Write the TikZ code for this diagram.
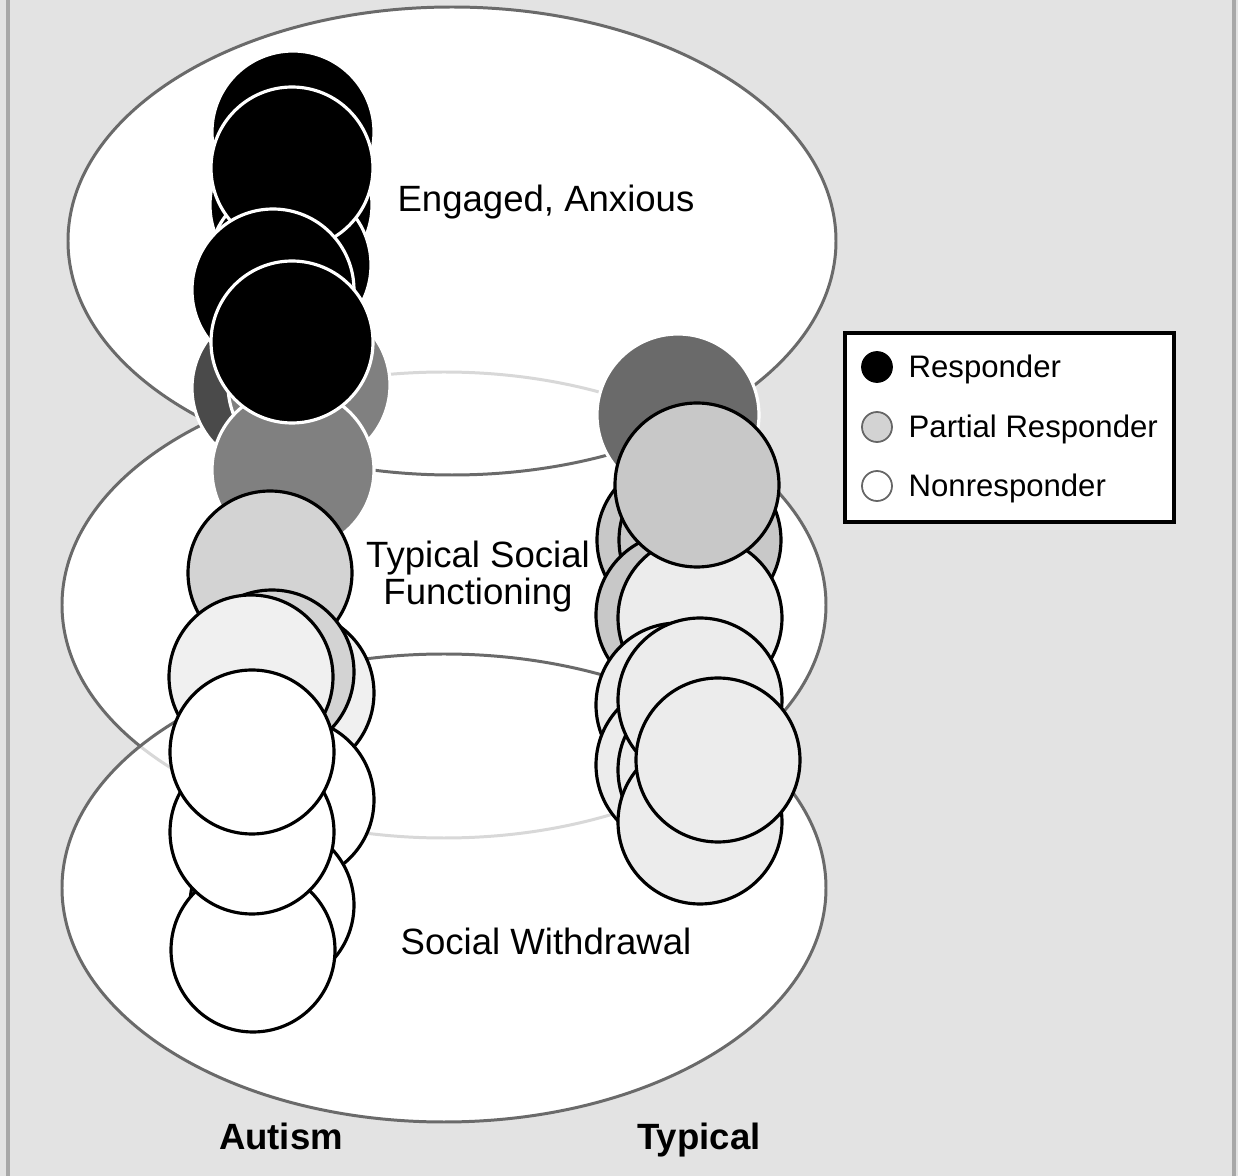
\documentclass[tikz,border=0pt]{standalone}
\usepackage{fontspec}
\setmainfont{Liberation Sans}
\usepackage{xcolor}
\usepackage{tikz}
\usetikzlibrary{positioning}

\definecolor{bgcol}{HTML}{E3E3E3}
\definecolor{framegray}{HTML}{A8A8A8}
\definecolor{ringgray}{HTML}{6A6A6A}
\definecolor{ringpale}{HTML}{D8D8D8}
\definecolor{resdark}{HTML}{4A4A4A}
\definecolor{resmid}{HTML}{808080}
\definecolor{partial}{HTML}{D3D3D3}
\definecolor{pale}{HTML}{F0F0F0}
\definecolor{tdark}{HTML}{6A6A6A}
\definecolor{tpartial}{HTML}{C8C8C8}
\definecolor{tpale}{HTML}{ECECEC}

\begin{document}
\begin{tikzpicture}[x=0.01cm, y=-0.01cm, font=\fontsize{10.4}{10.5}\selectfont,
	ring/.style={draw=ringgray, line width=0.85pt},
	dot/.style={draw=black, line width=0.9pt},
	keytext/.style={anchor=base west, inner sep=0pt, font=\fontsize{8.85}{10}\selectfont}]
	\fill[bgcol] (0,0) rectangle (1238,1176);
	\useasboundingbox (0,0) rectangle (1238,1176);
	\draw[framegray, line width=1.2pt] (8,0) -- (8,1176);
	\draw[framegray, line width=1.2pt] (1234,0) -- (1234,1176);
	% the three levels
	\draw[ring, fill=white] (444,605) ellipse (382 and 233);
	\fill[white] (452,241) ellipse (384 and 234);
	\fill[white] (444,888) ellipse (382 and 234);
	\begin{scope}
		\clip (452,241) ellipse (384 and 234);
		\draw[ring, draw=ringpale] (444,605) ellipse (382 and 233);
	\end{scope}
	\begin{scope}
		\clip (444,888) ellipse (382 and 234);
		\draw[ring, draw=ringpale] (444,605) ellipse (382 and 233);
	\end{scope}
	\draw[ring] (452,241) ellipse (384 and 234);
	\draw[ring] (444,888) ellipse (382 and 234);
	\node[anchor=base] (engaged) at (546,212) {Engaged, Anxious};
	\node[align=center] (typsoc) at (478,577) {Typical Social\\Functioning};
	\node[anchor=base] (withdraw) at (546,955) {Social Withdrawal};
	% autism column
	\foreach \x/\y/\c in {273/388/resdark, 309/385/resmid, 293/470/resmid,
		293/132/black, 291/205/black, 290/265/black, 292/168/black,
		273/290/black, 292/342/black}
	\draw[dot, draw=white, fill=\c] (\x,\y) circle (81);
	\foreach \x/\y/\c in {270/573/partial, 292/693/pale, 272/672/partial,
		251/677/pale, 292/800/white, 272/905/white, 253/950/white,
		252/832/white, 252/752/white}
	\draw[dot, fill=\c] (\x,\y) circle (82);
	% typical column
	\foreach \x/\y in {678/540, 700/540}
	\draw[dot, fill=tpartial] (\x,\y) circle (81);
	\draw[dot, draw=white, fill=tdark] (678,415) circle (81);
	\foreach \x/\y/\c in {678/615/tpartial, 700/618/tpale, 697/485/tpartial,
		678/705/tpale, 678/765/tpale, 700/770/tpale, 700/822/tpale,
		700/700/tpale, 718/760/tpale}
	\draw[dot, fill=\c] (\x,\y) circle (82);
	\node[anchor=base, font=\fontsize{10.4}{10.5}\selectfont\bfseries] (autism) at (281,1150) {Autism};
	\node[anchor=base, font=\fontsize{10.4}{10.5}\selectfont\bfseries] (typical) at (699,1150) {Typical};
	% legend
	\draw[line width=1pt, fill=white] (845,333) rectangle (1174,522);
	\draw[draw=black, fill=black, line width=0.5pt] (877,367) circle (15);
	\draw[draw=black!60, fill=partial, line width=0.5pt] (877,427) circle (15);
	\draw[draw=black!60, fill=white, line width=0.5pt] (877,486) circle (15);
	\node[keytext] (kresp) at (908,378) {Responder};
	\node[keytext] (kpart) at (908,438) {Partial Responder};
	\node[keytext] (knon) at (908,497) {Nonresponder};
\end{tikzpicture}
\end{document}
